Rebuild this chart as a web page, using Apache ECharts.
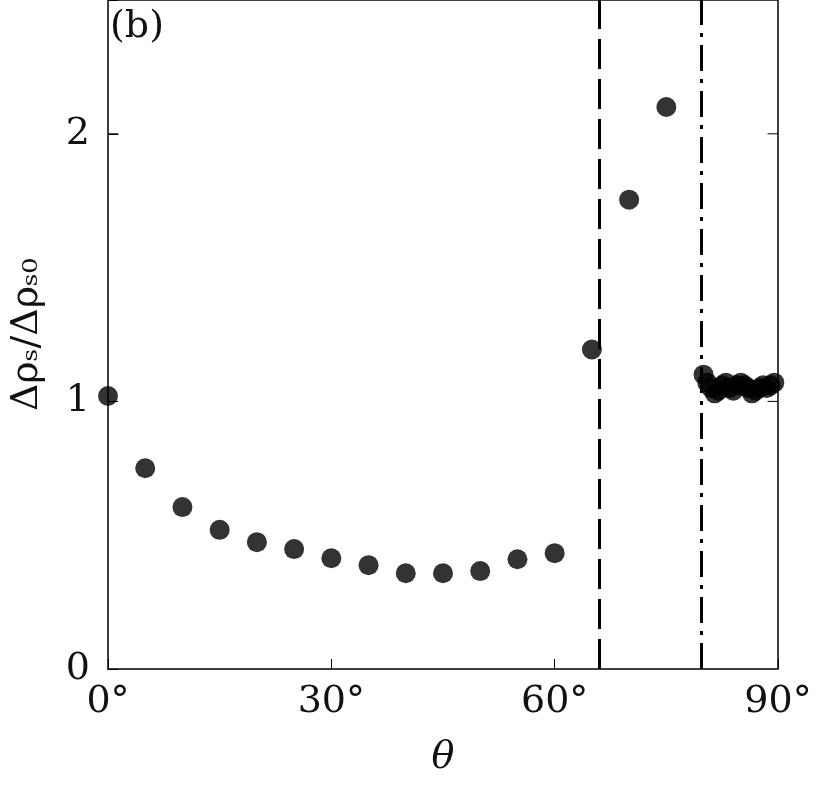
<!DOCTYPE html><html><head><meta charset="utf-8"><script src="https://cdn.jsdelivr.net/npm/echarts@6/dist/echarts.min.js"></script></head><body style="margin:0;background:#fff"><div id="c" style="width:835px;height:789px"></div><script>
const thetaMain=[0,5,10,15,20,25,30,35,40,45,50,55,60,65,70,75];
const ratioMain=[1.02,0.75,0.605,0.52,0.474,0.448,0.414,0.388,0.358,0.358,0.366,0.41,0.433,1.194,1.754,2.1];
const thetaNear=[80,80.5,81,81.5,82,82.5,83,83.5,84,84.5,85,85.5,86,86.5,87,87.5,88,88.5,89,89.5];
const ratioNear=[1.10,1.07,1.05,1.03,1.04,1.06,1.07,1.05,1.04,1.06,1.07,1.06,1.05,1.03,1.04,1.05,1.06,1.05,1.06,1.07];
const dashX=66, dashDotX=79.7;
const xTicks=[0,30,60,90], yTicks=[0,1,2];
const ax={fontFamily:'DejaVu Serif',fontSize:38,color:'#111'};
const c=echarts.init(document.getElementById('c'));
c.setOption({animation:false,
grid:{left:108,right:57,top:0,bottom:120},
xAxis:{type:'value',min:0,max:90,interval:30,axisLine:{onZero:false,lineStyle:{color:'#000',width:1.5}},axisTick:{inside:true,length:10,lineStyle:{color:'#000'}},axisLabel:Object.assign({formatter:v=>xTicks.includes(v)?v+'°':'',margin:14},ax),splitLine:{show:false},
 name:'θ',nameLocation:'middle',nameGap:70,nameTextStyle:Object.assign({fontStyle:'italic'},ax)},
yAxis:{type:'value',min:0,max:2.5,interval:1,axisLine:{lineStyle:{color:'#000',width:1.5}},axisTick:{inside:true,length:10,lineStyle:{color:'#000'}},axisLabel:Object.assign({formatter:v=>yTicks.includes(v)?String(v):'',margin:18},ax),splitLine:{show:false},
 name:'Δρ\u209B/Δρ\u209B\u2080',nameLocation:'middle',nameGap:62,nameTextStyle:ax},
series:[
{type:'scatter',symbolSize:20,itemStyle:{color:'#000'},data:thetaMain.map((t,i)=>[t,ratioMain[i]]),
 markLine:{symbol:'none',silent:true,label:{show:false},data:[
  {xAxis:dashX,lineStyle:{color:'#000',width:3,type:[30,10]}},
  {xAxis:dashDotX,lineStyle:{color:'#000',width:3,type:[26,8,4,8]}}]}},
{type:'scatter',symbolSize:20,itemStyle:{color:'#000'},data:thetaNear.map((t,i)=>[t,ratioNear[i]])},
{type:'line',data:[[0,2.5],[90,2.5]],symbol:'none',lineStyle:{color:'#000',width:1.5},silent:true},
{type:'line',data:[[90,0],[90,2.5]],symbol:'none',lineStyle:{color:'#000',width:1.5},silent:true},
{type:'line',data:[[0,2],[1.4,2]],symbol:'none',lineStyle:{color:'#000',width:1},silent:true},
{type:'line',data:[[88.6,2],[90,2]],symbol:'none',lineStyle:{color:'#000',width:1},silent:true},
{type:'line',data:[[88.6,1],[90,1]],symbol:'none',lineStyle:{color:'#000',width:1},silent:true}
],
graphic:[{type:'text',left:110,top:8,style:{text:'(b)',font:'38px DejaVu Serif',fill:'#111'}}]
});
</script></body></html>
